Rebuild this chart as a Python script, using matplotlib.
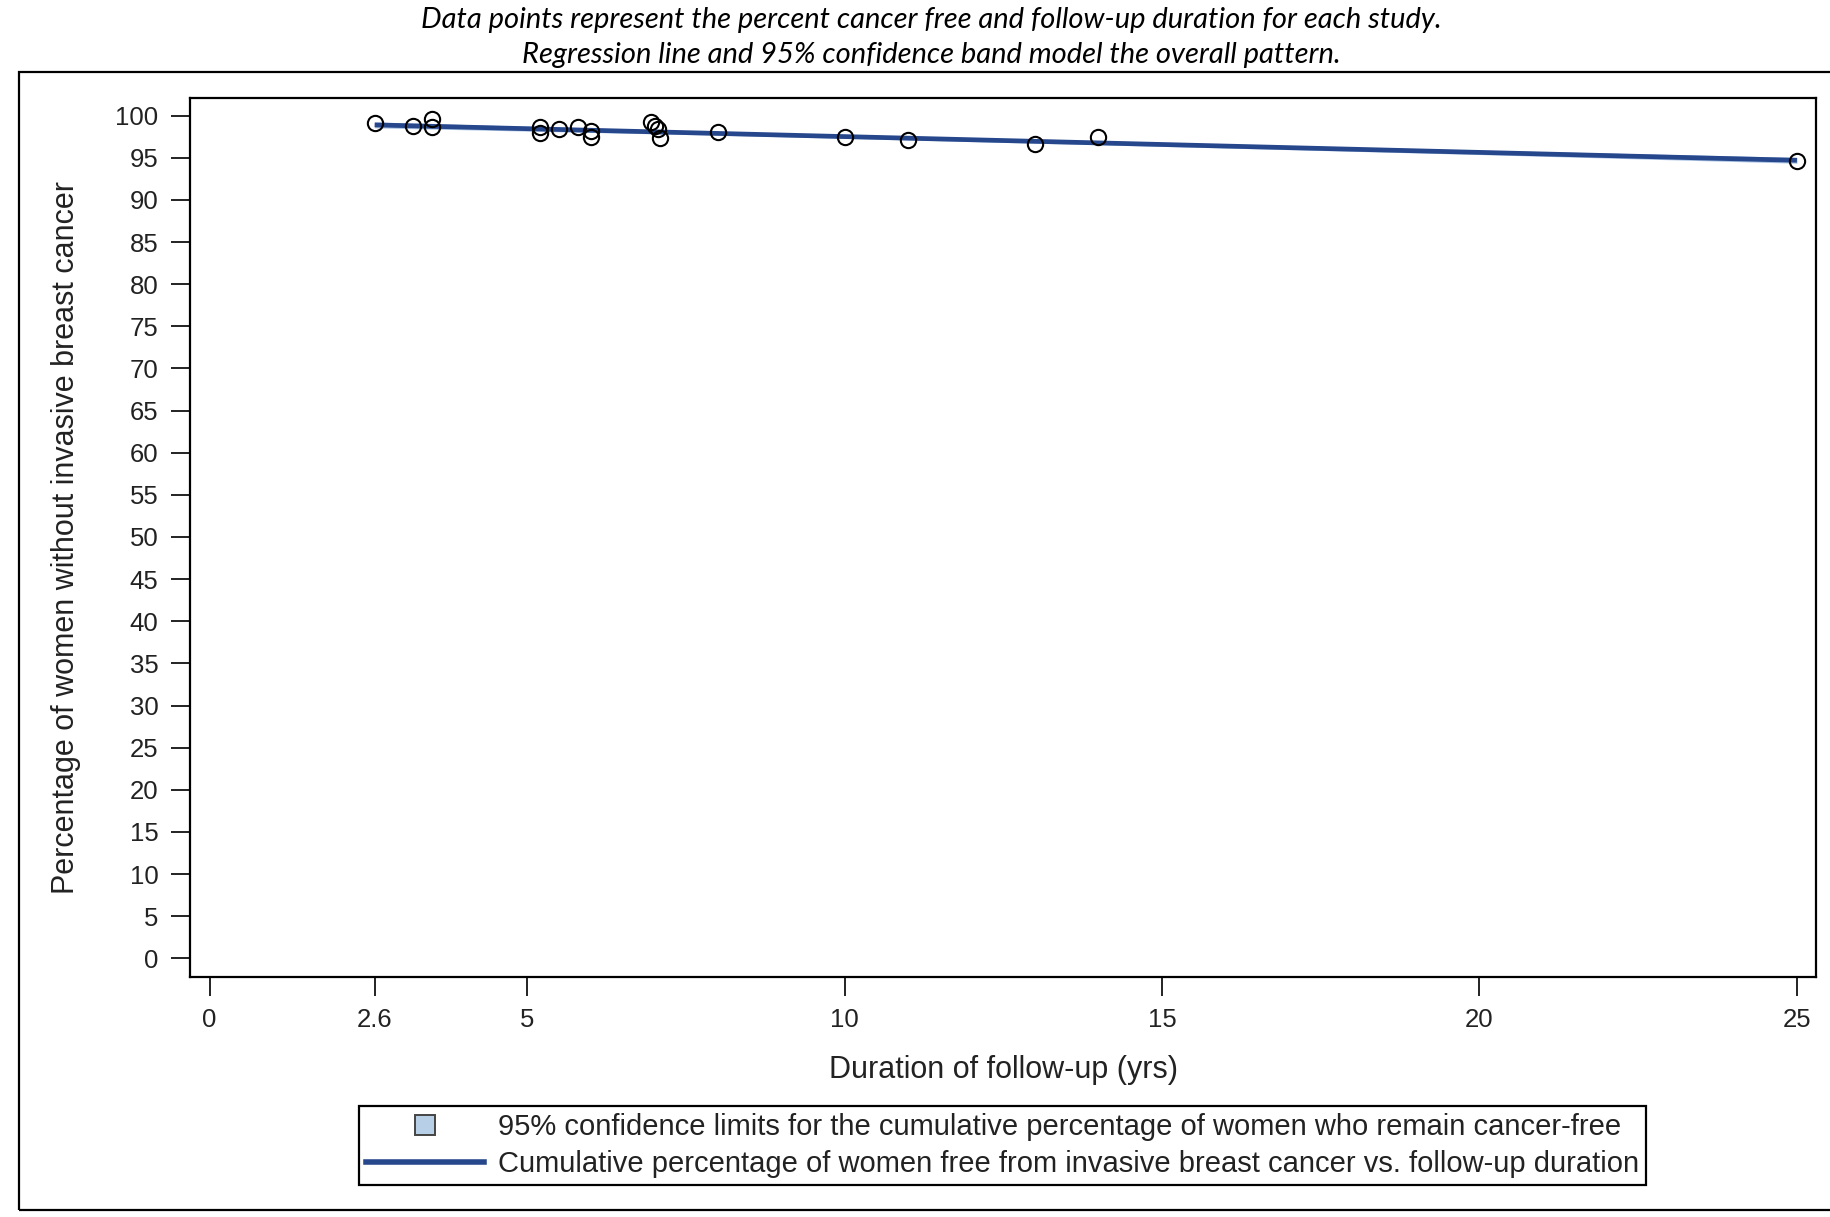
import matplotlib
matplotlib.use('Agg')
import matplotlib.pyplot as plt
from matplotlib.lines import Line2D
from matplotlib.patches import Rectangle

# ---- data ----
followup_years = [2.6, 3.2, 3.5, 3.5, 5.2, 5.2, 5.5, 5.8, 6.0, 6.0,
                  6.96, 7.02, 7.06, 7.1, 8.0, 10.0, 11.0, 13.0, 14.0, 25.0]
pct_cancer_free = [99.1, 98.8, 99.6, 98.6, 98.6, 97.9, 98.4, 98.7, 98.2, 97.5,
                   99.2, 98.8, 98.4, 97.3, 98.0, 97.5, 97.15, 96.65, 97.45, 94.65]

fit_x = [2.6, 25.0]
fit_y = [98.9, 94.7]

band_x = [2.6, 8.0, 14.0, 20.0, 25.0]
band_lower = [98.55, 97.68, 96.54, 95.38, 94.35]
band_upper = [99.25, 98.1, 96.98, 95.9, 95.05]

x_ticks = [0, 2.6, 5, 10, 15, 20, 25]
x_tick_labels = ['0', '2.6', '5', '10', '15', '20', '25']
y_ticks = list(range(0, 101, 5))

title_lines = ["Data points represent the percent cancer free and follow-up duration for each study.",
               "Regression line and 95% confidence band model the overall pattern."]
x_label = "Duration of follow-up (yrs)"
y_label = "Percentage of women without invasive breast cancer"
legend_labels = ["95% confidence limits for the cumulative percentage of women who remain cancer-free",
                 "Cumulative percentage of women free from invasive breast cancer vs. follow-up duration"]

# ---- figure ----
W, H = 1831, 1217
fig = plt.figure(figsize=(W / 100, H / 100), dpi=100)
fig.patch.set_facecolor('white')

def fx(px):
    return px / W

def fy(py):
    return 1 - py / H

line_color = '#26478c'
band_color = '#a9c3e4'
text_color = '#222222'

# outer frame
fig.add_artist(Rectangle((fx(19), fy(1210)), fx(1840) - fx(19), fy(72) - fy(1210),
                         transform=fig.transFigure, fill=False, edgecolor='black',
                         linewidth=1.6))

ax = fig.add_axes([fx(190.5), fy(976.5), fx(1816) - fx(190.5), fy(97.5) - fy(976.5)])

ax.fill_between(band_x, band_lower, band_upper, color=band_color, lw=0, zorder=2)
ax.plot(fit_x, fit_y, color=line_color, lw=3.4, zorder=3, solid_capstyle='butt')
ax.plot(followup_years, pct_cancer_free, ls='none', marker='o', ms=11,
        mfc='none', mec='black', mew=1.5, zorder=4)

ax.set_xlim(-0.3, 25.3)
ax.set_ylim(-2.15, 102.15)
ax.set_xticks(x_ticks)
ax.set_xticklabels(x_tick_labels)
ax.set_yticks(y_ticks)

for lab in ax.get_xticklabels() + ax.get_yticklabels():
    lab.set_fontfamily('Liberation Sans')
    lab.set_fontsize(18.5)
    lab.set_color(text_color)
ax.tick_params(axis='both', direction='out', length=14, width=1.4, color='#222222')
ax.tick_params(axis='x', pad=9)
ax.tick_params(axis='y', pad=9)
for s in ax.spines.values():
    s.set_linewidth(1.6)
    s.set_color('black')

ax.set_xlabel(x_label, fontfamily='Liberation Sans', fontsize=22, color=text_color, labelpad=16)
ax.set_ylabel(y_label, fontfamily='Liberation Sans', fontsize=22, color=text_color, labelpad=25)

# title
fig.text(fx(931), fy(20), title_lines[0], ha='center', va='center',
         fontfamily='Lato', fontstyle='italic', fontsize=21, color='black')
fig.text(fx(931), fy(55), title_lines[1], ha='center', va='center',
         fontfamily='Lato', fontstyle='italic', fontsize=21, color='black')

# legend
handles = [Line2D([], [], ls='none', marker='s', ms=14, mfc='#b8cfe8', mec='#444444', mew=1.4),
           Line2D([], [], color=line_color, lw=4)]
leg = fig.legend(handles, legend_labels, loc='upper left',
                 bbox_to_anchor=(fx(359), fy(1106)), borderaxespad=0,
                 frameon=True, fancybox=False, edgecolor='black', framealpha=1,
                 numpoints=1, handlelength=4.05, handletextpad=0.45, borderpad=0.25,
                 labelspacing=0.3, prop={'family': 'Liberation Sans', 'size': 21})
leg.get_frame().set_linewidth(1.6)
for t in leg.get_texts():
    t.set_color(text_color)

fig.savefig('out.png', dpi=100)
